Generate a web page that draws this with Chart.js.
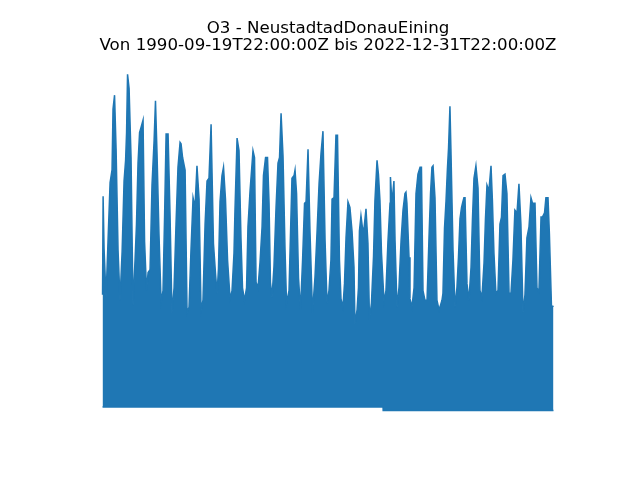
<!DOCTYPE html>
<html>
<head>
<meta charset="utf-8">
<title>O3 - NeustadtadDonauEining</title>
<script src="https://cdn.jsdelivr.net/npm/chart.js@4.4.1/dist/chart.umd.min.js"></script>
<style>
  html, body { margin: 0; padding: 0; background: #ffffff; }
  #chart-box { width: 640px; height: 480px; }
</style>
</head>
<body>
<div id="chart-box"><canvas id="o3-chart" width="640" height="480"></canvas></div>
<script>
// Title lines
const titleLines = [
  "O3 - NeustadtadDonauEining",
  "Von 1990-09-19T22:00:00Z bis 2022-12-31T22:00:00Z",
]

// Upper envelope of the hourly O3 series (decimal year, value)
const upperYears = [
  1990.72, 1990.76, 1990.83, 1990.97, 1991.11, 1991.26, 1991.40, 1991.47, 1991.58, 1991.69,
  1991.83, 1991.97, 1992.12, 1992.26, 1992.37, 1992.44, 1992.51, 1992.62, 1992.76, 1992.90,
  1993.05, 1993.15, 1993.26, 1993.37, 1993.51, 1993.62, 1993.73, 1993.87, 1993.98, 1994.12,
  1994.26, 1994.41, 1994.51, 1994.62, 1994.76, 1994.91, 1995.05, 1995.16, 1995.27, 1995.41,
  1995.55, 1995.69, 1995.84, 1995.98, 1996.12, 1996.27, 1996.34, 1996.45, 1996.63, 1996.77,
  1996.91, 1997.05, 1997.20, 1997.34, 1997.48, 1997.63, 1997.77, 1997.91, 1998.06, 1998.20,
  1998.34, 1998.49, 1998.66, 1998.81, 1998.92, 1999.02, 1999.13, 1999.27, 1999.38, 1999.52,
  1999.67, 1999.85, 1999.99, 2000.13, 2000.20, 2000.35, 2000.49, 2000.63, 2000.74, 2000.88,
  2001.03, 2001.13, 2001.28, 2001.39, 2001.49, 2001.60, 2001.71, 2001.85, 2001.99, 2002.14,
  2002.24, 2002.39, 2002.53, 2002.64, 2002.74, 2002.85, 2002.99, 2003.14, 2003.28, 2003.39,
  2003.50, 2003.64, 2003.78, 2003.89, 2004.07, 2004.18, 2004.28, 2004.43, 2004.50, 2004.61,
  2004.75, 2004.89, 2005.04, 2005.18, 2005.29, 2005.43, 2005.57, 2005.75, 2005.93, 2006.07,
  2006.22, 2006.36, 2006.50, 2006.65, 2006.79, 2006.93, 2007.07, 2007.15, 2007.29, 2007.43,
  2007.54, 2007.61, 2007.68, 2007.79, 2007.93, 2008.04, 2008.15, 2008.29, 2008.43, 2008.58,
  2008.72, 2008.79, 2008.94, 2009.04, 2009.11, 2009.22, 2009.33, 2009.44, 2009.58, 2009.72,
  2009.83, 2009.97, 2010.12, 2010.22, 2010.37, 2010.47, 2010.58, 2010.69, 2010.87, 2011.01,
  2011.15, 2011.30, 2011.33, 2011.44, 2011.58, 2011.66, 2011.80, 2011.94, 2012.09, 2012.23,
  2012.37, 2012.44, 2012.51, 2012.66, 2012.73, 2012.87, 2013.02, 2013.16, 2013.30, 2013.45,
  2013.55, 2013.66, 2013.80, 2013.95, 2014.09, 2014.20, 2014.30, 2014.38, 2014.52, 2014.66,
  2014.81, 2015.02, 2015.09, 2015.20, 2015.31, 2015.41, 2015.49, 2015.59, 2015.66, 2015.81,
  2015.95, 2016.09, 2016.20, 2016.31, 2016.42, 2016.49, 2016.59, 2016.67, 2016.81, 2016.95,
  2017.10, 2017.20, 2017.31, 2017.45, 2017.60, 2017.74, 2017.88, 2018.03, 2018.13, 2018.24,
  2018.38, 2018.53, 2018.63, 2018.74, 2018.88, 2019.03, 2019.17, 2019.28, 2019.39, 2019.53,
  2019.67, 2019.82, 2019.96, 2020.10, 2020.24, 2020.39, 2020.53, 2020.67, 2020.82, 2020.96,
  2021.10, 2021.25, 2021.39, 2021.50, 2021.68, 2021.82, 2021.96, 2022.11, 2022.21, 2022.36,
  2022.46, 2022.61, 2022.71, 2022.86, 2023.00,
]
const upperValues = [
  81, 152, 114, 79, 119, 162, 171, 215, 225, 186,
  113, 77, 112, 163, 178, 198, 240, 230, 180, 73,
  107, 132, 176, 198, 203, 207, 119, 84, 97, 99,
  160, 192, 221, 183, 125, 76, 84, 137, 197, 197,
  140, 68, 86, 132, 173, 191, 190, 180, 171, 68,
  72, 113, 151, 144, 174, 150, 70, 77, 132, 163,
  165, 204, 118, 96, 82, 100, 148, 167, 173, 150,
  106, 78, 84, 111, 142, 194, 185, 122, 86, 77,
  86, 130, 156, 171, 185, 180, 90, 86, 104, 130,
  167, 180, 180, 147, 90, 79, 101, 144, 176, 180,
  212, 181, 115, 75, 84, 127, 165, 167, 171, 154,
  93, 70, 106, 147, 148, 186, 127, 68, 94, 125,
  161, 183, 199, 120, 75, 84, 106, 150, 151, 196,
  196, 151, 106, 78, 72, 89, 122, 148, 144, 127,
  101, 60, 70, 86, 127, 138, 129, 129, 143, 118,
  63, 75, 109, 149, 178, 168, 149, 111, 76, 84,
  119, 147, 166, 147, 163, 120, 72, 86, 120, 142,
  154, 155, 147, 108, 78, 72, 86, 154, 168, 173,
  173, 84, 77, 77, 122, 154, 173, 174, 151, 77,
  70, 77, 82, 129, 149, 172, 187, 217, 186, 113,
  72, 86, 108, 136, 144, 147, 151, 151, 89, 77,
  101, 135, 165, 174, 158, 84, 79, 104, 135, 160,
  156, 174, 149, 111, 82, 84, 132, 137, 167, 168,
  154, 82, 82, 106, 142, 140, 161, 132, 68, 81,
  122, 130, 151, 147, 147, 86, 83, 137, 137, 140,
  151, 151, 125, 72, 73,
]

// Lower envelope (series floor)
const lowerYears = [1990.72, 2010.80, 2010.81, 2023.00]
const lowerValues = [0, 0, -2.5, -2.5]

const lineColor = "#1f77b4"

// Title drawn above the axes, centred on the plot area
const titlePlugin = {
  id: "mplTitle",
  afterDraw(chart) {
    const { ctx, chartArea } = chart
    const cx = (chartArea.left + chartArea.right) / 2
    ctx.save()
    ctx.fillStyle = "#000000"
    ctx.font = "16.67px 'DejaVu Sans'"
    ctx.textAlign = "center"
    ctx.textBaseline = "alphabetic"
    ctx.fillText(titleLines[0], cx, 33)
    ctx.fillText(titleLines[1], cx, 50)
    ctx.restore()
  },
}

const ctx = document.getElementById("o3-chart").getContext("2d")
const o3Chart = new Chart(ctx, {
  type: "line",
  data: {
    datasets: [
      {
        label: "lower",
        data: lowerYears.map((x, i) => ({ x, y: lowerValues[i] })),
        borderColor: lineColor,
        borderWidth: 1.5,
        pointRadius: 0,
        fill: false,
      },
      {
        label: "O3",
        data: upperYears.map((x, i) => ({ x, y: upperValues[i] })),
        borderColor: lineColor,
        backgroundColor: lineColor,
        borderWidth: 1.5,
        pointRadius: 0,
        tension: 0,
        fill: "-1",
      },
    ],
  },
  options: {
    responsive: false,
    animation: false,
    devicePixelRatio: 1,
    layout: {
      padding: { left: 80, right: 64, top: 57.6, bottom: 52.8 },
    },
    scales: {
      x: {
        type: "linear",
        display: false,
        min: 1989.106,
        max: 2024.614,
      },
      y: {
        display: false,
        min: -14.6,
        max: 252.1,
      },
    },
    plugins: {
      legend: { display: false },
      tooltip: { enabled: false },
      title: { display: false },
    },
  },
  plugins: [titlePlugin],
})
</script>
</body>
</html>
